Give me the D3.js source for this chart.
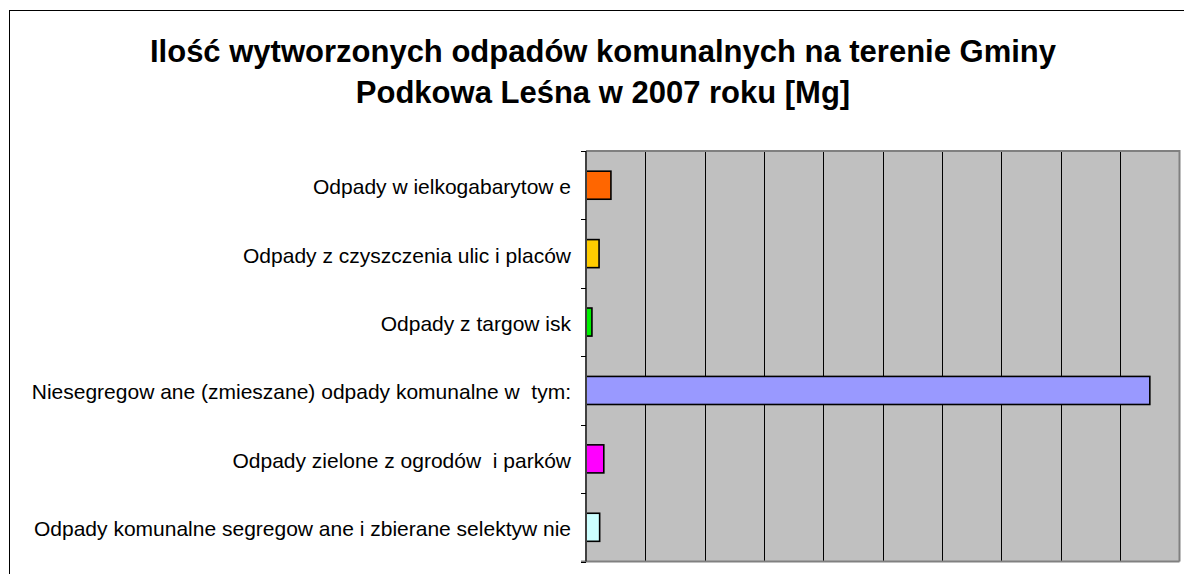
<!DOCTYPE html>
<html>
<head>
<meta charset="utf-8">
<script src="https://cdn.jsdelivr.net/npm/d3@7/dist/d3.min.js"></script>
<style>
  html, body { margin: 0; padding: 0; background: #ffffff; }
  svg { display: block; }
</style>
</head>
<body>
<script>
const categories = [
  "Odpady w ielkogabarytow e",
  "Odpady z czyszczenia ulic i placów",
  "Odpady z targow isk",
  "Niesegregow ane (zmieszane) odpady komunalne w  tym:",
  "Odpady zielone z ogrodów  i parków",
  "Odpady komunalne segregow ane i zbierane selektyw nie"
];
const values = [42, 22, 10, 950, 30, 23];
const colors = ["#FF6600", "#FFCC00", "#00F000", "#9999FF", "#FF00FF", "#CCFFFF"];
const gridTicks = [0, 100, 200, 300, 400, 500, 600, 700, 800, 900, 1000];
const titleLines = [
  "Ilość wytworzonych odpadów komunalnych na terenie Gminy",
  "Podkowa Leśna w 2007 roku [Mg]"
];

const W = 1184, H = 574;
const svg = d3.select("body").append("svg").attr("width", W).attr("height", H);

// outer chart border (extends beyond view on right/bottom)
svg.append("rect")
  .attr("x", 9.5).attr("y", 10.5)
  .attr("width", 1200).attr("height", 600)
  .attr("fill", "#ffffff").attr("stroke", "#000000").attr("stroke-width", 1);

// title
svg.append("g").selectAll("text").data(titleLines).join("text")
  .attr("x", 603)
  .attr("y", (d, i) => 62 + i * 41)
  .attr("text-anchor", "middle")
  .attr("font-family", "'Liberation Sans', Arial, sans-serif")
  .attr("font-weight", "bold")
  .attr("font-size", 31)
  .attr("fill", "#000000")
  .text(d => d);

const plot = { left: 586, right: 1179.5, top: 151, bottom: 561.5 };

const x = d3.scaleLinear().domain([0, 1000]).range([plot.left, plot.right]);
const y = d3.scaleBand().domain(categories).range([plot.top, plot.bottom])
  .paddingInner(0.59).paddingOuter(0.295);

// plot background
svg.append("rect")
  .attr("x", plot.left).attr("y", plot.top)
  .attr("width", plot.right - plot.left).attr("height", plot.bottom - plot.top)
  .attr("fill", "#C0C0C0");

// gridlines
svg.append("g").selectAll("line").data(gridTicks.slice(1, -1)).join("line")
  .attr("x1", d => Math.round(x(d)) + 0.5).attr("x2", d => Math.round(x(d)) + 0.5)
  .attr("y1", plot.top).attr("y2", plot.bottom)
  .attr("stroke", "#000000").attr("stroke-width", 1);

// plot border (top/right)
svg.append("path")
  .attr("d", `M${plot.left},${plot.top} H${plot.right} V${plot.bottom}`)
  .attr("fill", "none").attr("stroke", "#808080").attr("stroke-width", 2);

// bars
svg.append("g").selectAll("rect").data(categories).join("rect")
  .attr("x", x(0))
  .attr("y", d => y(d))
  .attr("width", (d, i) => x(values[i]) - x(0))
  .attr("height", y.bandwidth())
  .attr("fill", (d, i) => colors[i])
  .attr("stroke", "#000000")
  .attr("stroke-width", 1.6);

// bottom axis line
svg.append("line")
  .attr("x1", plot.left - 5).attr("x2", plot.right)
  .attr("y1", plot.bottom).attr("y2", plot.bottom)
  .attr("stroke", "#808080").attr("stroke-width", 2);

// left axis with ticks at band boundaries
const yAxisG = svg.append("g");
yAxisG.append("line")
  .attr("x1", plot.left).attr("x2", plot.left)
  .attr("y1", plot.top).attr("y2", plot.bottom)
  .attr("stroke", "#404040").attr("stroke-width", 2);
const step = y.step();
const boundaries = categories.map(c => y(c) - (step - y.bandwidth()) / 2)
  .concat([plot.bottom]);
yAxisG.selectAll("line.tick").data(boundaries).join("line")
  .attr("class", "tick")
  .attr("x1", plot.left - 5).attr("x2", plot.left)
  .attr("y1", d => Math.round(d) + 0.5).attr("y2", d => Math.round(d) + 0.5)
  .attr("stroke", "#000000").attr("stroke-width", 1);

// category labels
svg.append("g").selectAll("text").data(categories).join("text")
  .attr("x", 571)
  .attr("y", d => y(d) + y.bandwidth() / 2 + 9)
  .attr("text-anchor", "end")
  .attr("font-family", "'Liberation Sans', Arial, sans-serif")
  .attr("font-size", 21)
  .attr("fill", "#000000")
  .style("white-space", "pre")
  .attr("xml:space", "preserve")
  .text(d => d);
</script>
</body>
</html>
